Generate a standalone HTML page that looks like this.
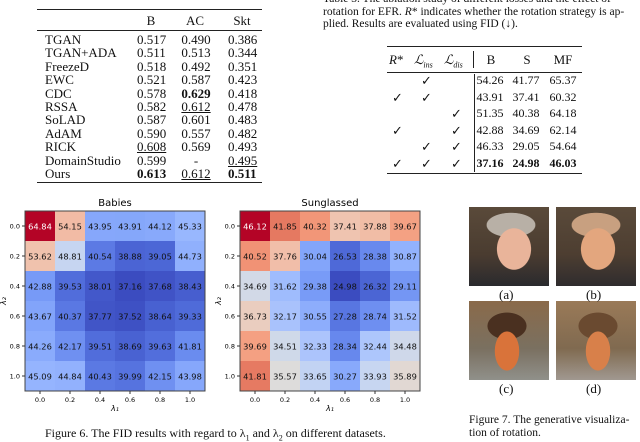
<!DOCTYPE html>
<html><head><meta charset="utf-8">
<style>
body{margin:0;width:640px;height:436px;overflow:hidden;background:#fff;position:relative;font-family:"Liberation Serif",serif;color:#111}
.a{position:absolute;white-space:nowrap}
.t{font-size:13px;line-height:13px}
.n{font-size:12px;line-height:13px}
.c{transform:translateX(-50%)}
.r{position:absolute;background:#222}
.photo{position:absolute;width:80px;height:79px;overflow:hidden}
</style></head><body>
<div id="tbl1"></div>
<div id="tbl2"></div>
<div class="a" style="left:323px;top:-7px;font-size:11.5px;line-height:12.5px">Table 3. The ablation study of different losses and the effect of<br>rotation for EFR. <i>R</i>* indicates whether the rotation strategy is ap-<br>plied. Results are evaluated using FID (↓).</div>
<svg id="hm" width="440" height="436" style="position:absolute;left:0;top:0" font-family="DejaVu Sans, sans-serif"></svg>
<div class="a" style="left:45px;top:426px;font-size:12px">Figure 6. The FID results with regard to λ<sub style="font-size:8px">1</sub> and λ<sub style="font-size:8px">2</sub> on different datasets.</div>

<div class="photo" style="left:469px;top:207px;background:radial-gradient(ellipse 28px 34px at 45px 42px,#e9b49a 60%,transparent 62%),radial-gradient(ellipse 40px 20px at 42px 18px,#b8b0a6 60%,transparent 62%),linear-gradient(180deg,#5a4a3a 0,#4a3c30 60%,#2a2a2e 100%)"></div>
<div class="photo" style="left:556px;top:207px;background:radial-gradient(ellipse 28px 34px at 42px 42px,#e3a67e 60%,transparent 62%),radial-gradient(ellipse 40px 20px at 40px 18px,#c8a080 60%,transparent 62%),linear-gradient(180deg,#5a4a3a 0,#4d3e31 60%,#2f2c2e 100%)"></div>
<div class="photo" style="left:469px;top:301px;background:radial-gradient(ellipse 20px 32px at 38px 50px,#d9733a 60%,transparent 62%),radial-gradient(ellipse 32px 22px at 38px 25px,#4a3020 60%,transparent 62%),linear-gradient(180deg,#8a6a4a,#7a7060 60%,#90908a)"></div>
<div class="photo" style="left:556px;top:301px;background:radial-gradient(ellipse 20px 32px at 42px 50px,#d8804a 60%,transparent 62%),radial-gradient(ellipse 32px 22px at 42px 25px,#6a4a30 60%,transparent 62%),linear-gradient(180deg,#9a7a58,#806a50 60%,#a09890)"></div>
<div class="a t" style="left:499px;top:288px">(a)</div>
<div class="a t" style="left:586px;top:288px">(b)</div>
<div class="a t" style="left:499px;top:382px">(c)</div>
<div class="a t" style="left:586px;top:382px">(d)</div>
<div class="a" style="left:469px;top:414px;font-size:11.5px;line-height:13px">Figure 7. The generative visualiza-<br>tion of rotation.</div>

<script>
const xTicks=["0.0","0.2","0.4","0.6","0.8","1.0"];
const yTicks=["0.0","0.2","0.4","0.6","0.8","1.0"];
const babies=[[64.84,54.15,43.95,43.91,44.12,45.33],[53.62,48.81,40.54,38.88,39.05,44.73],[42.88,39.53,38.01,37.16,37.68,38.43],[43.67,40.37,37.77,37.52,38.64,39.33],[44.26,42.17,39.51,38.69,39.63,41.81],[45.09,44.84,40.43,39.99,42.15,43.98]];
const sung=[[46.12,41.85,40.32,37.41,37.88,39.67],[40.52,37.76,30.04,26.53,28.38,30.87],[34.69,31.62,29.38,24.98,26.32,29.11],[36.73,32.17,30.55,27.28,28.74,31.52],[39.69,34.51,32.33,28.34,32.44,34.48],[41.81,35.57,33.65,30.27,33.93,35.89]];
const cw=[[59,76,192],[77,104,215],[98,130,234],[122,157,248],[149,180,254],[175,199,252],[201,215,240],[221,220,219],[237,201,183],[245,178,152],[244,154,123],[232,127,101],[216,95,77],[198,58,55],[180,4,38]];
function col(t){t=Math.max(0,Math.min(1,t))*(cw.length-1);const i=Math.min(cw.length-2,Math.floor(t)),f=t-i;const c=cw[i].map((v,k)=>Math.round(v+(cw[i+1][k]-v)*f));return `rgb(${c})`;}
const svg=document.getElementById('hm'),NS="http://www.w3.org/2000/svg";
function mk(tag,at,txt){const e=document.createElementNS(NS,tag);for(const k in at)e.setAttribute(k,at[k]);if(txt!=null)e.textContent=txt;svg.appendChild(e);return e;}
function heat(data,x0,title,nm){
  const y0=211,cs=30,flat=data.flat(),mn=Math.min(...flat),mx=Math.max(...flat);
  const t=mk('text',{x:x0+90,y:206,'text-anchor':'middle','font-size':10},title);
  
  
  data.forEach((row,r)=>row.forEach((v,c)=>{
    const f=(v-mn)/(mx-mn);
    const rc=mk('rect',{x:x0+c*cs,y:y0+r*cs,width:cs,height:cs,fill:col(f)});
    
    
    const tx=mk('text',{x:x0+c*cs+15,y:y0+r*cs+18.5,'text-anchor':'middle','font-size':8.3,fill:f>0.9?'#fff':'#111'},v.toFixed(2));
    
    
  }));
  const fr=mk('rect',{x:x0,y:y0,width:180,height:180,fill:'none',stroke:'#444','stroke-width':1});
  
  
  xTicks.forEach((s,i)=>{mk('line',{x1:x0+i*cs+15,x2:x0+i*cs+15,y1:y0+180,y2:y0+183,stroke:'#333'});
    const e=mk('text',{x:x0+i*cs+15,y:y0+191,'text-anchor':'middle','font-size':6.5},s);
    
    });
  yTicks.forEach((s,i)=>{mk('line',{x1:x0-3,x2:x0,y1:y0+i*cs+15,y2:y0+i*cs+15,stroke:'#333'});
    const e=mk('text',{x:x0-5,y:y0+i*cs+17.5,'text-anchor':'end','font-size':6.5},s);
    
    });
  const xl=mk('text',{x:x0+90,y:y0+200,'text-anchor':'middle','font-size':8,'font-style':'italic'},'λ₁');
  
  
  const yl=mk('text',{x:x0-19,y:y0+90,'text-anchor':'middle','font-size':8,'font-style':'italic',transform:`rotate(-90 ${x0-19} ${y0+90})`},'λ₂');
  
  
}
heat(babies,25,'Babies','babies');
heat(sung,240,'Sunglassed','sunglassed');

// table 1
const methods=["TGAN","TGAN+ADA","FreezeD","EWC","CDC","RSSA","SoLAD","AdAM","RICK","DomainStudio","Ours"];
const colB=["0.517","0.511","0.518","0.521","0.578","0.582","0.587","0.590","0.608","0.599","0.613"];
const colAC=["0.490","0.513","0.492","0.587","0.629","0.612","0.601","0.557","0.569","-","0.612"];
const colSkt=["0.386","0.344","0.351","0.423","0.418","0.478","0.483","0.482","0.493","0.495","0.511"];
const t1=document.getElementById('tbl1');let h='';
h+='<div class="r" style="left:37px;top:9px;width:225px;height:1.3px"></div><div class="r" style="left:37px;top:30px;width:225px;height:0.8px"></div><div class="r" style="left:37px;top:182px;width:225px;height:1.3px"></div>';
[['B',151],['AC',195],['Skt',242]].forEach(([s,x])=>h+=`<div class="a t c" style="left:${x}px;top:14px">${s}</div>`);
const fmt=(v,b,u)=>`<span style="${b?'font-weight:bold;':''}${u?'text-decoration:underline;':''}">${v}</span>`;
methods.forEach((m,i)=>{const y=33+i*13.4;
 h+=`<div class="a t" style="left:45px;top:${y}px">${m}</div>`;
 h+=`<div class="a t" style="left:137px;top:${y}px">${fmt(colB[i],i==10,i==8)}</div>`;
 h+=`<div class="a t" style="left:181px;top:${y}px;width:30px;text-align:center">${fmt(colAC[i],i==4,i==5||i==10)}</div>`;
 h+=`<div class="a t" style="left:228px;top:${y}px">${fmt(colSkt[i],i==10,i==9)}</div>`;});
t1.innerHTML=h;

// table 2
const rs=[0,1,0,1,0,1],li=[1,1,0,0,1,1],ld=[0,0,1,1,1,1];
const aB=["54.26","43.91","51.35","42.88","46.33","37.16"],aS=["41.77","37.41","40.38","34.69","29.05","24.98"],aM=["65.37","60.32","64.18","62.14","54.64","46.03"];
let g='<div class="r" style="left:387px;top:46px;width:195px;height:1.3px"></div><div class="r" style="left:387px;top:72px;width:195px;height:0.8px"></div><div class="r" style="left:387px;top:173px;width:195px;height:1.3px"></div><div class="r" style="left:473px;top:51px;width:0.8px;height:17px"></div><div class="r" style="left:474px;top:74px;width:0.8px;height:98px"></div>';
g+='<div class="a t" style="left:389px;top:53px"><i>R</i>*</div><div class="a t" style="left:414px;top:53px"><i>ℒ<sub style="font-size:8px">ins</sub></i></div><div class="a t" style="left:444px;top:53px"><i>ℒ<sub style="font-size:8px">dis</sub></i></div>';
[['B',491],['S',527],['MF',563]].forEach(([s,x])=>g+=`<div class="a t c" style="left:${x}px;top:53px">${s}</div>`);
aB.forEach((v,i)=>{const y=74+i*16.6,b=i==5?'font-weight:bold;':'';
 if(rs[i])g+=`<div class="a t" style="left:392px;top:${y}px">✓</div>`;
 if(li[i])g+=`<div class="a t" style="left:421px;top:${y}px">✓</div>`;
 if(ld[i])g+=`<div class="a t" style="left:451px;top:${y}px">✓</div>`;
 g+=`<div class="a n c" style="left:490px;top:${y}px;${b}">${v}</div>`;
 g+=`<div class="a n c" style="left:526px;top:${y}px;${b}">${aS[i]}</div>`;
 g+=`<div class="a n c" style="left:563px;top:${y}px;${b}">${aM[i]}</div>`;});
document.getElementById('tbl2').innerHTML=g;
</script>
</body></html>
